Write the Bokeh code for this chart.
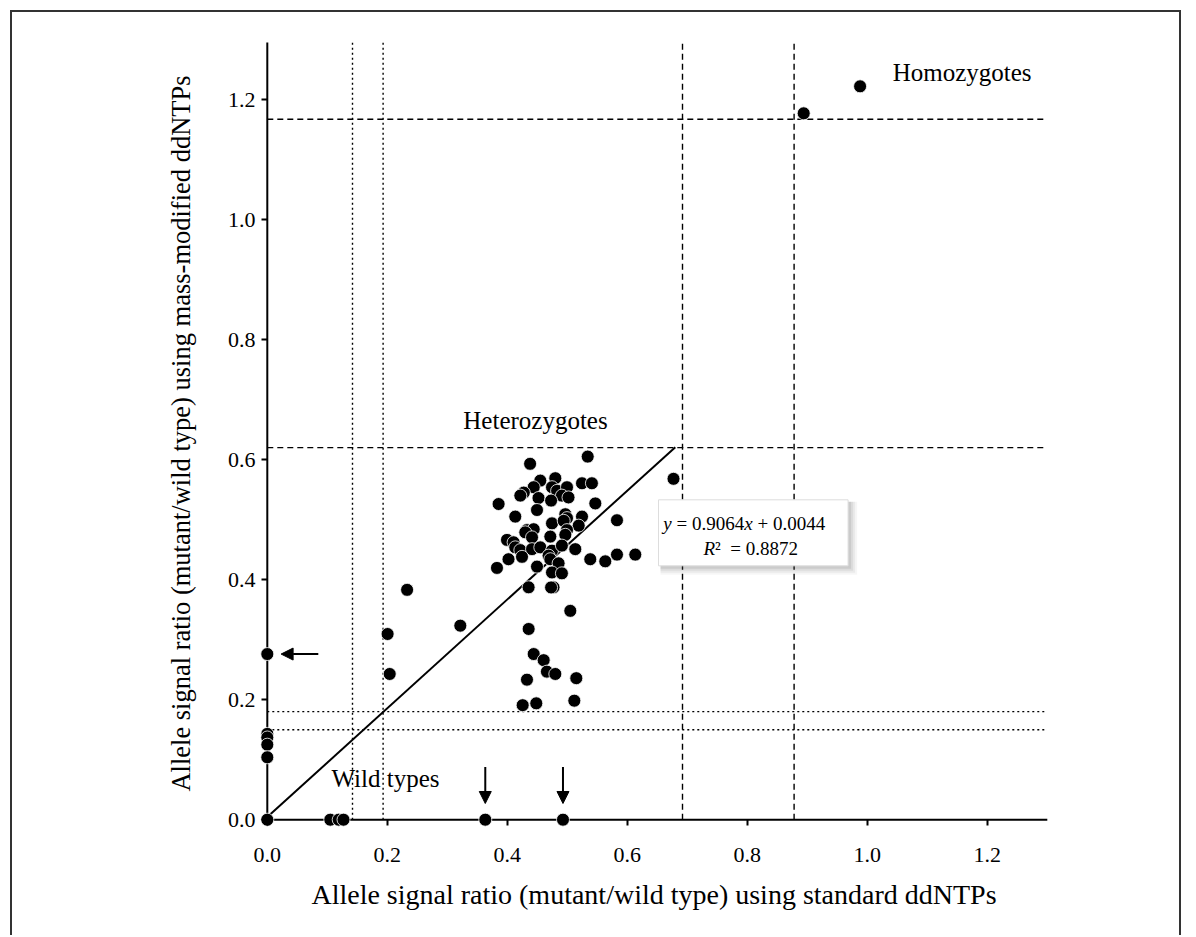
from bokeh.plotting import figure
from bokeh.models import (FixedTicker, NumeralTickFormatter, Arrow, NormalHead,
                          Label, Range1d)
from bokeh.embed import file_html
from bokeh.resources import INLINE

# ---------------- data ----------------
# allele signal ratio with standard ddNTPs (x) and mass-modified ddNTPs (y)
het_x = [0.438, 0.534, 0.455, 0.480, 0.444, 0.4275, 0.4217, 0.4745, 0.483, 0.4995,
         0.491, 0.502, 0.452, 0.473, 0.5245, 0.541, 0.3855, 0.4495, 0.5467, 0.4133,
         0.4967, 0.4995, 0.5245, 0.4745, 0.494, 0.519, 0.5828, 0.4328, 0.444, 0.430,
         0.4412, 0.4717, 0.4995, 0.4967, 0.3995, 0.4105, 0.4133, 0.4217, 0.4412, 0.455,
         0.4745, 0.491, 0.5133, 0.402, 0.4245, 0.4688, 0.4717, 0.5383, 0.5633, 0.5828,
         0.6133, 0.3828, 0.4495, 0.4855, 0.4745, 0.491, 0.4355, 0.477, 0.473, 0.677,
         0.505, 0.233, 0.3217, 0.2005, 0.204, 0.4356, 0.444, 0.4606, 0.466, 0.480,
         0.4328, 0.515, 0.4256, 0.4483, 0.5117]
het_y = [0.593, 0.605, 0.565, 0.569, 0.554, 0.545, 0.540, 0.554, 0.548, 0.554,
         0.540, 0.537, 0.536, 0.5317, 0.5606, 0.5606, 0.526, 0.516, 0.527, 0.505,
         0.509, 0.5025, 0.505, 0.4938, 0.498, 0.490, 0.499, 0.4825, 0.484, 0.4788,
         0.4705, 0.4717, 0.4825, 0.4747, 0.4662, 0.4622, 0.4538, 0.4492, 0.4508, 0.4538,
         0.4483, 0.4567, 0.4508, 0.434, 0.438, 0.440, 0.434, 0.434, 0.4305, 0.4417,
         0.4417, 0.4195, 0.4217, 0.4272, 0.412, 0.4105, 0.3872, 0.3872, 0.387, 0.568,
         0.348, 0.383, 0.3233, 0.3094, 0.2428, 0.3178, 0.276, 0.2658, 0.2467, 0.2428,
         0.2333, 0.2358, 0.1908, 0.1939, 0.1983]
wild_x = [0.0, 0.105, 0.119, 0.127, 0.3633, 0.4928, 0.0, 0.0, 0.0, 0.0, 0.0]
wild_y = [0.0, 0.0, 0.0, 0.0, 0.0, 0.0, 0.276, 0.143, 0.137, 0.125, 0.104]
homo_x = [0.894, 0.988]
homo_y = [1.177, 1.222]

# regression line y = 0.9064x + 0.0044
fit_slope = 0.9064
fit_intercept = 0.0044
fit_x = [0.0, 0.68]

# genotype thresholds
dotted_x = [0.142, 0.193]
dashed_x = [0.692, 0.878]
dotted_y = [0.150, 0.180]
dashed_y = [0.620, 1.167]

x_ticks = [0.0, 0.2, 0.4, 0.6, 0.8, 1.0, 1.2]
y_ticks = [0.0, 0.2, 0.4, 0.6, 0.8, 1.0, 1.2]
axis_max = 1.3

x_label = "Allele signal ratio (mutant/wild type) using standard ddNTPs"
y_label = "Allele signal ratio (mutant/wild type) using mass-modified ddNTPs"

# ---------------- figure ----------------
SERIF = "Liberation Serif"
NB = "\u00a0"
p = figure(width=1171, height=925, output_backend="svg", toolbar_location=None,
           x_range=Range1d(-0.013, 1.302), y_range=Range1d(-0.013, 1.30),
           min_border_left=247, min_border_right=135, min_border_top=27,
           min_border_bottom=110)
p.margin = (10, 10, 0, 10)
p.styles = {"border-top": "2px solid #333333", "border-left": "2px solid #333333",
            "border-right": "2px solid #333333"}
p.grid.visible = False
p.outline_line_color = None
p.background_fill_color = "white"
p.border_fill_color = "white"

for ax, ticks in ((p.xaxis, x_ticks), (p.yaxis, y_ticks)):
    ax.ticker = FixedTicker(ticks=ticks)
    ax.formatter = NumeralTickFormatter(format="0.0")
    ax.axis_line_color = None
    ax.major_tick_out = -2
    ax.major_tick_in = 8
    ax.minor_tick_out = 0
    ax.minor_tick_in = 0
    ax.major_tick_line_width = 2
    ax.major_tick_line_color = "black"
    ax.major_label_text_font = SERIF
    ax.major_label_text_font_size = "22px"
    ax.major_label_text_color = "black"
    ax.axis_label_text_font = SERIF
    ax.axis_label_text_font_style = "normal"
    ax.axis_label_text_color = "black"

p.xaxis.axis_label = x_label
p.yaxis.axis_label = y_label
p.xaxis.axis_label_text_font_size = "28px"
p.yaxis.axis_label_text_font_size = "26.5px"
p.xaxis.major_label_standoff = 20
p.yaxis.major_label_standoff = 4
p.xaxis.axis_label_standoff = 14
p.yaxis.axis_label_standoff = 29

# axis lines
p.segment(x0=[0, 0], y0=[0, 0], x1=[axis_max, 0], y1=[0, axis_max - 0.005],
          line_color="black", line_width=2)

# threshold lines
p.segment(x0=dotted_x, y0=[0] * len(dotted_x), x1=dotted_x, y1=[axis_max - 0.005] * len(dotted_x),
          line_color="black", line_width=1.4, line_dash="2 3")
p.segment(x0=[0] * len(dotted_y), y0=dotted_y, x1=[axis_max] * len(dotted_y), y1=dotted_y,
          line_color="black", line_width=1.4, line_dash="2 3")
p.segment(x0=dashed_x, y0=[0] * len(dashed_x), x1=dashed_x, y1=[axis_max - 0.005] * len(dashed_x),
          line_color="black", line_width=1.4, line_dash="6 4")
p.segment(x0=[0] * len(dashed_y), y0=dashed_y, x1=[axis_max] * len(dashed_y), y1=dashed_y,
          line_color="black", line_width=1.4, line_dash="6 4")

# regression line
fit_y = [fit_slope * v + fit_intercept for v in fit_x]
p.line(fit_x, fit_y, line_color="black", line_width=2)

# equation box with shadow
bx0, bx1, by0, by1 = 0.652, 0.968, 0.423, 0.533
px = 1 / 600.0
for k, a in ((9, 0.05), (7, 0.07), (5, 0.09), (3, 0.12)):
    p.quad(left=[bx0 + 2 * px], right=[bx1 + k * px], bottom=[by0 - k * px], top=[by1 - 2 * px],
           fill_color="#555555", fill_alpha=a, line_color=None)
p.quad(left=[bx0], right=[bx1], bottom=[by0], top=[by1], fill_color="white",
       line_color="#dddddd", line_width=1)

# points
p.scatter(het_x, het_y, size=13, fill_color="black", line_color="white", line_width=0.8)
p.scatter(wild_x, wild_y, size=13, fill_color="black", line_color="white", line_width=0.8)
p.scatter(homo_x, homo_y, size=13, fill_color="black", line_color="white", line_width=0.8)

# text helper
def lab(x, y, t, xo=0, style="normal", size="19px", align="left"):
    p.add_layout(Label(x=x, y=y, text=t, x_offset=xo, text_font=SERIF, text_font_size=size,
                       text_font_style=style, text_align=align, text_baseline="middle",
                       text_color="black"))

# equation text
lab(0.660, 0.4933, "y", 0, "italic")
lab(0.660, 0.4933, NB + "=" + NB + "0.9064", 8.5)
lab(0.660, 0.4933, "x", 81, "italic")
lab(0.660, 0.4933, NB + "+" + NB + "0.0044", 89.5)
lab(0.727, 0.4517, "R", 0, "italic")
lab(0.727, 0.4517, "\u00b2" + NB + NB + "=" + NB + "0.8872", 11.5)

# group labels
lab(1.158, 1.245, "Homozygotes", 0, "normal", "25px", "center")
lab(0.447, 0.665, "Heterozygotes", 0, "normal", "25px", "center")
lab(0.197, 0.068, "Wild types", 0, "normal", "25px", "center")

# arrows
head = dict(size=12, fill_color="black", line_color="black")
p.add_layout(Arrow(end=NormalHead(**head), x_start=0.085, y_start=0.276, x_end=0.023, y_end=0.276,
                   line_width=2, line_color="black"))
for ax_ in (0.3633, 0.4928):
    p.add_layout(Arrow(end=NormalHead(**head), x_start=ax_, y_start=0.088, x_end=ax_, y_end=0.027,
                       line_width=2, line_color="black"))

open("out.html", "w").write(file_html(p, INLINE))
